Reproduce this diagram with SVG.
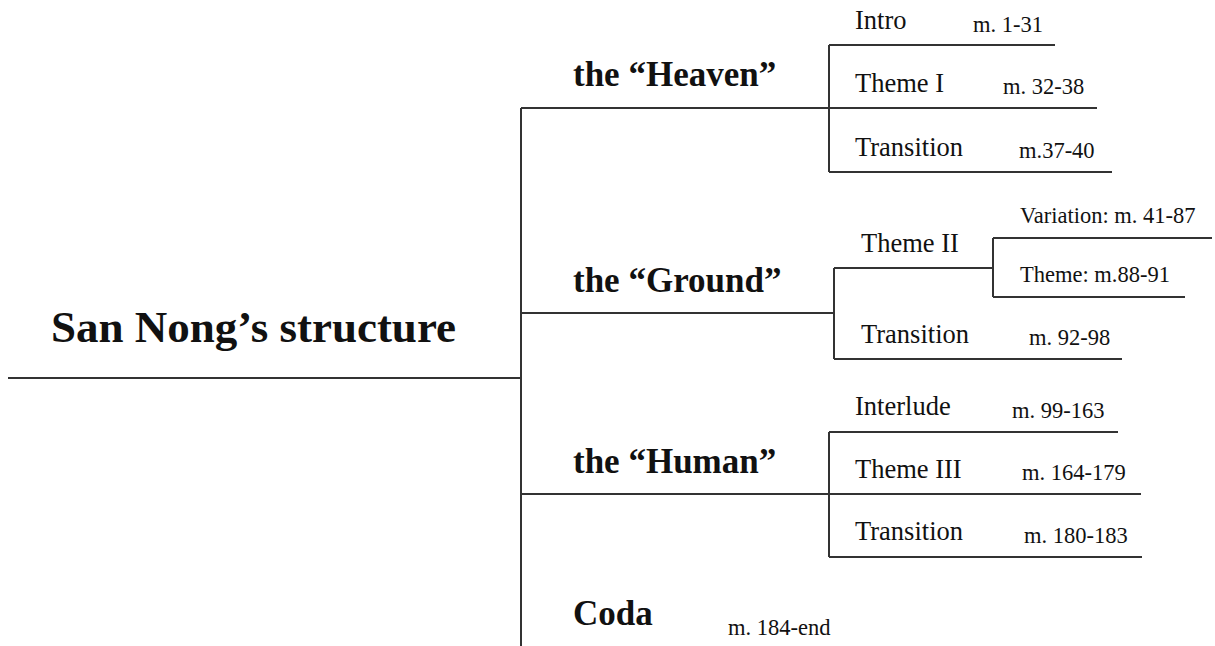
<svg xmlns="http://www.w3.org/2000/svg" width="1215" height="646" viewBox="0 0 1215 646">
<style>
.ln{stroke:#333;stroke-width:2;fill:none}
.t{font-family:"Liberation Serif","Times New Roman",serif;fill:#111}
.title{font-size:45px;font-weight:bold}
.sec{font-size:35px;font-weight:bold}
.lab{font-size:26.5px}
.m{font-size:22.5px}
</style>
<rect width="1215" height="646" fill="#fff"/>
<g id="connectors">
<path class="ln" d="M8 378H521M521 108V646M521 108H1097M521 313H834M521 494H1141"/>
<path class="ln" d="M829 45V172M829 45H1055M829 172H1112"/>
<path class="ln" d="M834 268V359M834 268H993M834 359H1122M993 238V297M993 238H1212M993 297H1185"/>
<path class="ln" d="M829 432V557M829 432H1118M829 557H1142"/>
</g>
<g id="root"><text class="t title" x="51" y="342">San Nong’s structure</text></g>
<g id="heaven"><text class="t sec" x="573" y="86">the “Heaven”</text></g>
<g id="intro"><text class="t lab" x="855" y="29">Intro</text><text class="t m" x="973" y="32">m. 1-31</text></g>
<g id="theme1"><text class="t lab" x="855" y="92">Theme I</text><text class="t m" x="1003" y="94">m. 32-38</text></g>
<g id="transition1"><text class="t lab" x="855" y="156">Transition</text><text class="t m" x="1019" y="158">m.37-40</text></g>
<g id="ground"><text class="t sec" x="573" y="292">the “Ground”</text></g>
<g id="theme2"><text class="t lab" x="861" y="252">Theme II</text></g>
<g id="variation"><text class="t m" x="1020" y="223">Variation: m. 41-87</text></g>
<g id="theme2b"><text class="t m" x="1020" y="282">Theme: m.88-91</text></g>
<g id="transition2"><text class="t lab" x="861" y="343">Transition</text><text class="t m" x="1029" y="345">m. 92-98</text></g>
<g id="human"><text class="t sec" x="573" y="473">the “Human”</text></g>
<g id="interlude"><text class="t lab" x="855" y="415">Interlude</text><text class="t m" x="1012" y="418">m. 99-163</text></g>
<g id="theme3"><text class="t lab" x="855" y="478">Theme III</text><text class="t m" x="1022" y="480">m. 164-179</text></g>
<g id="transition3"><text class="t lab" x="855" y="540">Transition</text><text class="t m" x="1024" y="543">m. 180-183</text></g>
<g id="coda"><text class="t sec" x="573" y="625">Coda</text><text class="t m" x="728" y="635">m. 184-end</text></g>
</svg>
